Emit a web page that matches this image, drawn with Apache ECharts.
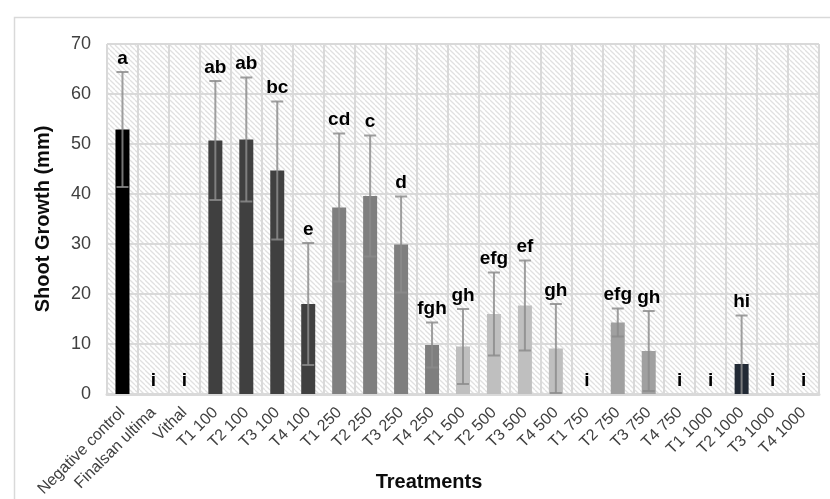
<!DOCTYPE html>
<html>
<head>
<meta charset="utf-8">
<script src="https://cdn.jsdelivr.net/npm/echarts@6/dist/echarts.min.js"></script>
<style>
  html, body { margin: 0; padding: 0; background: #fff; }
  #chart { width: 830px; height: 499px; }
</style>
</head>
<body>
<div id="chart"></div>
<script>
// Treatments along the category axis
const categories = [
  'Negative control', 'Finalsan ultima', 'Vithal',
  'T1 100', 'T2 100', 'T3 100', 'T4 100',
  'T1 250', 'T2 250', 'T3 250', 'T4 250',
  'T1 500', 'T2 500', 'T3 500', 'T4 500',
  'T1 750', 'T2 750', 'T3 750', 'T4 750',
  'T1 1000', 'T2 1000', 'T3 1000', 'T4 1000'
];

// Mean shoot growth (mm)
const meanGrowth = [
  52.9, 0, 0,
  50.7, 50.9, 44.7, 18.0,
  37.3, 39.6, 29.9, 9.8,
  9.5, 16.0, 17.7, 9.1,
  0, 14.3, 8.6, 0,
  0, 6.0, 0, 0
];

// Standard deviation (mm)
const sdGrowth = [
  11.5, 0, 0,
  11.9, 12.4, 13.8, 12.2,
  14.8, 12.1, 9.6, 4.5,
  7.5, 8.3, 9.0, 8.9,
  0, 2.8, 8.0, 0,
  0, 9.7, 0, 0
];

// Significance letters
const groupLetters = [
  'a', 'i', 'i',
  'ab', 'ab', 'bc', 'e',
  'cd', 'c', 'd', 'fgh',
  'gh', 'efg', 'ef', 'gh',
  'i', 'efg', 'gh', 'i',
  'i', 'hi', 'i', 'i'
];

// Y axis ticks
const yTicks = { min: 0, max: 70, step: 10 };

// Fill colour for each treatment group
function groupColor(name) {
  if (name === 'Negative control') return '#000000';
  if (/ 100$/.test(name)) return '#404040';
  if (/ 250$/.test(name)) return '#7f7f7f';
  if (/ 500$/.test(name)) return '#bfbfbf';
  if (/ 750$/.test(name)) return '#a0a0a0';
  if (/ 1000$/.test(name)) return '#222a35';
  return '#7f7f7f';
}

// Diagonal hatch tile for the plot background
function hatchTile() {
  const s = 5;
  const c = document.createElement('canvas');
  c.width = s; c.height = s;
  const ctx = c.getContext('2d');
  ctx.fillStyle = '#ffffff';
  ctx.fillRect(0, 0, s, s);
  ctx.strokeStyle = '#e0e0e0';
  ctx.lineWidth = 1.3;
  for (let k = -1; k <= 1; k++) {
    ctx.beginPath();
    ctx.moveTo(k * s, 0);
    ctx.lineTo(k * s + s, s);
    ctx.stroke();
  }
  return c;
}

const FONT = "'Liberation Sans', Arial, sans-serif";
const chart = echarts.init(document.getElementById('chart'));

const barData = categories.map((name, i) => ({
  value: meanGrowth[i],
  itemStyle: { color: groupColor(name) }
}));

const errData = categories.map((name, i) => [i, meanGrowth[i], sdGrowth[i]]);

const capHalf = 6;

function renderError(params, api) {
  const idx = api.value(0);
  const mean = api.value(1);
  const sd = api.value(2);
  const letter = groupLetters[idx];
  const hiVal = mean + sd;
  const loVal = Math.max(0, mean - sd);
  const top = api.coord([idx, hiVal]);
  const bot = api.coord([idx, loVal]);
  const x = top[0];
  const children = [];
  const lineStyle = { stroke: 'rgba(140,140,140,0.83)', lineWidth: 2 };
  if (sd > 0) {
    children.push({ type: 'line', shape: { x1: x, y1: top[1], x2: x, y2: bot[1] }, style: lineStyle });
    children.push({ type: 'line', shape: { x1: x - capHalf, y1: top[1], x2: x + capHalf, y2: top[1] }, style: lineStyle });
    if (mean - sd > 0) {
      children.push({ type: 'line', shape: { x1: x - capHalf, y1: bot[1], x2: x + capHalf, y2: bot[1] }, style: lineStyle });
    }
  }
  children.push({
    type: 'text',
    style: {
      x: x, y: top[1] - 4,
      text: letter,
      fill: '#000',
      font: 'bold 19px ' + FONT,
      align: 'center',
      verticalAlign: 'bottom'
    }
  });
  return { type: 'group', children: children };
}

chart.setOption({
  animation: false,
  backgroundColor: '#ffffff',
  graphic: [{
    type: 'rect',
    left: 12, top: 15,
    shape: { width: 830, height: 500 },
    style: { fill: 'none', stroke: '#d9d9d9', lineWidth: 1.5 },
    silent: true, z: -10
  }],
  grid: {
    left: 107, right: 11, top: 44, bottom: 105,
    containLabel: false,
    outerBoundsMode: 'none',
    show: true,
    borderWidth: 0,
    backgroundColor: { image: hatchTile(), repeat: 'repeat' }
  },
  xAxis: {
    type: 'category',
    data: categories,
    name: 'Treatments',
    nameLocation: 'middle',
    nameGap: 78,
    nameMoveOverlap: false,
    nameTextStyle: {
      fontFamily: FONT, fontSize: 20, fontWeight: 'bold', color: '#0d0d0d',
      verticalAlign: 'top', padding: [0, 68, 0, 0]
    },
    axisLine: { lineStyle: { color: '#d9d9d9', width: 3 } },
    axisTick: { show: false },
    axisLabel: { interval: 0, rotate: 45, margin: 16, fontFamily: FONT, fontSize: 16, color: '#404040' },
    splitLine: { show: true, interval: 0, lineStyle: { color: '#d9d9d9', width: 2 } }
  },
  yAxis: {
    type: 'value',
    min: yTicks.min, max: yTicks.max, interval: yTicks.step,
    name: 'Shoot Growth (mm)',
    nameLocation: 'middle',
    nameGap: 54,
    nameMoveOverlap: false,
    nameTextStyle: { fontFamily: FONT, fontSize: 20, fontWeight: 'bold', color: '#0d0d0d' },
    axisLine: { show: false },
    axisTick: { show: false },
    axisLabel: { margin: 16, fontFamily: FONT, fontSize: 18, color: '#404040' },
    splitLine: { show: true, lineStyle: { color: '#d9d9d9', width: 2 } }
  },
  series: [
    {
      type: 'bar',
      data: barData,
      barWidth: 14,
      z: 2
    },
    {
      type: 'custom',
      data: errData,
      renderItem: renderError,
      encode: { x: 0, y: 1 },
      z: 3,
      clip: false
    }
  ]
});
</script>
</body>
</html>
